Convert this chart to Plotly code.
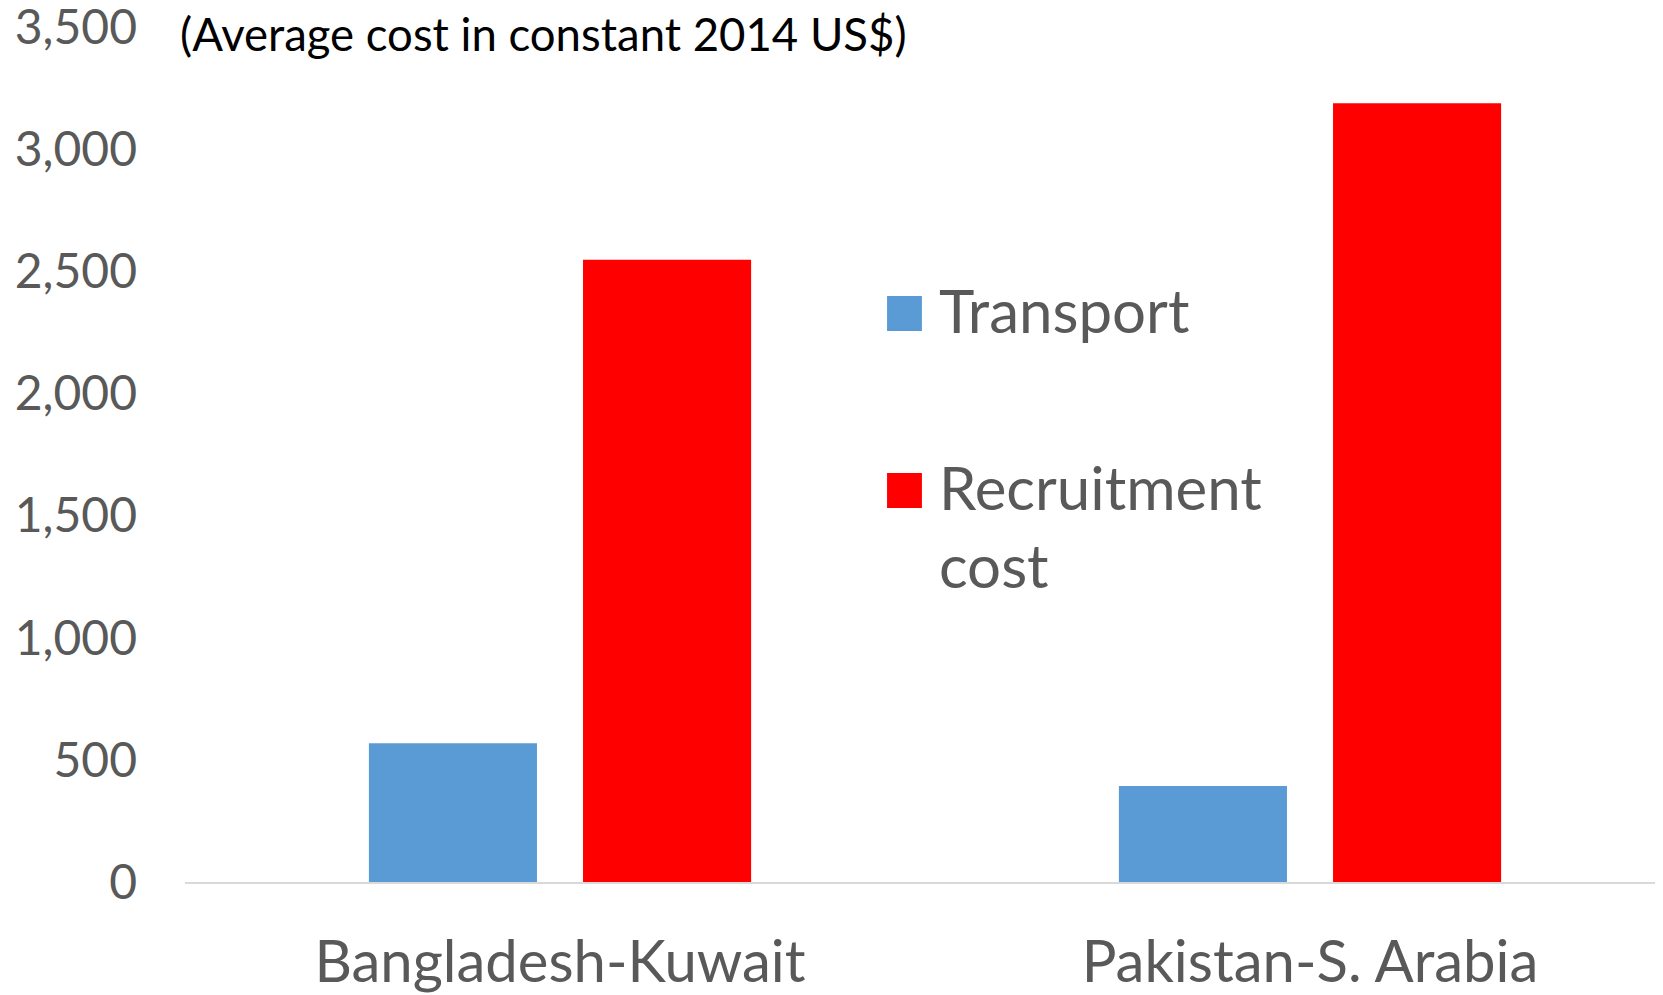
import plotly.graph_objects as go

categories = ["Bangladesh-Kuwait", "Pakistan-S. Arabia"]
series_names = ["Transport", "Recruitment<br>cost"]
transport = [568, 393]
recruitment = [2548, 3188]
series_colors = ["#5b9bd5", "#ff0000"]
y_ticks = [0, 500, 1000, 1500, 2000, 2500, 3000, 3500]
y_tick_labels = ["0", "500", "1,000", "1,500", "2,000", "2,500", "3,000", "3,500"]
note_text = "(Average cost in constant 2014 US$)"

FONT = "Lato"
GRAY = "#595959"

fig = go.Figure()
for name, vals, col in zip(series_names, [transport, recruitment], series_colors):
    fig.add_trace(go.Bar(x=categories, y=vals, name=name, marker_color=col,
                         marker_line_width=0, showlegend=False))

# page body has an 8px margin; compensate so the plot lands where the reference has it
fig.update_layout(
    width=1655, height=987,
    margin=dict(l=177, r=0, t=19, b=113),
    paper_bgcolor="white", plot_bgcolor="white",
    barmode="group", bargap=0.429, bargroupgap=0.215,
    font=dict(family=FONT, color=GRAY),
)
fig.update_xaxes(
    range=[-0.5, -0.5 + 1478 / 750],
    showline=True, linecolor="#d9d9d9", linewidth=2,
    showgrid=False, zeroline=False, ticks="",
    tickfont=dict(family=FONT, size=58, color=GRAY),
    ticklabelstandoff=28, automargin=False,
)
fig.update_yaxes(
    range=[0, 3500.5], tickvals=y_ticks, ticktext=y_tick_labels,
    showgrid=False, zeroline=False, showline=False, ticks="",
    tickfont=dict(family=FONT, size=48, color=GRAY),
    ticklabelstandoff=47, ticklabeloverflow="allow", automargin=False,
)

fig.add_annotation(xref="paper", yref="paper", x=-0.0047, y=0.992,
                   xanchor="left", yanchor="middle", showarrow=False,
                   text=note_text, font=dict(family=FONT, size=45.5, color="black"))

# manual legend (large square markers)
sq = [(0.6854, 0.6444), (0.4784, 0.4374)]
txt_y = [0.6655, 0.4585]
for (y1, y0), ty, name, col in zip(sq, txt_y, series_names, series_colors):
    fig.add_shape(type="rect", xref="paper", yref="paper",
                  x0=0.475, x1=0.4986, y0=y0, y1=y1,
                  fillcolor=col, line_width=0)
    fig.add_annotation(xref="paper", yref="paper", x=0.5085, y=ty + 0.048,
                       xanchor="left", yanchor="top", align="left", showarrow=False,
                       text=name, font=dict(family=FONT, size=60, color=GRAY))

fig.write_html("out.html")
